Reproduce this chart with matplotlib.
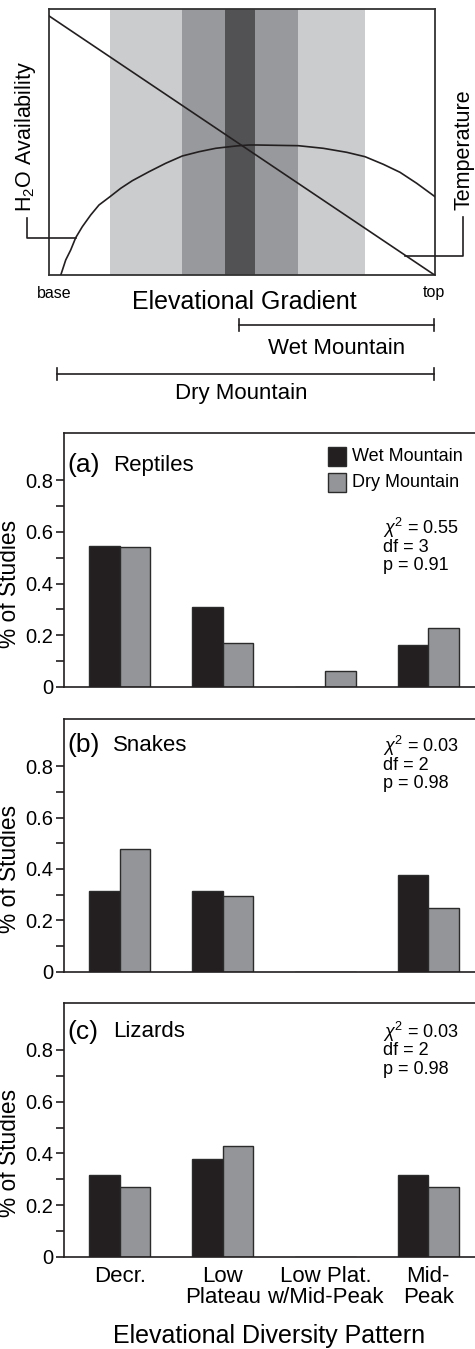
import matplotlib
matplotlib.use("Agg")
import matplotlib.pyplot as plt
import numpy as np
from matplotlib.patches import Rectangle
from matplotlib.ticker import FixedLocator

plt.rcParams["font.family"] = ["Liberation Sans", "DejaVu Sans"]
plt.rcParams["mathtext.fontset"] = "custom"
plt.rcParams["mathtext.rm"] = "Liberation Sans"
plt.rcParams["mathtext.it"] = "Liberation Sans:italic"

W, H = 475, 1349

# conceptual top panel (x, y as fractions of the gradient box)
h2o_x = [0.0303, 0.0433, 0.0562, 0.0692, 0.0863, 0.108, 0.1295, 0.158, 0.1858, 0.2158,
         0.2591, 0.3023, 0.3453, 0.3886, 0.4319, 0.4837, 0.5181, 0.5381, 0.6459, 0.7106,
         0.7712, 0.8187, 0.8661, 0.9093, 0.9526, 1.0]
h2o_y = [0.0, 0.0575, 0.095, 0.1412, 0.1825, 0.2264, 0.264, 0.2952, 0.3267, 0.3552,
         0.389, 0.4206, 0.448, 0.4641, 0.4769, 0.4855, 0.4893, 0.4893, 0.4867, 0.4769,
         0.4619, 0.4454, 0.4168, 0.3868, 0.3455, 0.2952]
temp_x = [0.0, 1.0]
temp_y = [0.974, 0.0]
bands = [(0.158, 0.819, "#cbccce"), (0.345, 0.645, "#98999c"), (0.456, 0.534, "#525255")]

# bar panels
patterns = ["Decr.", "Low\nPlateau", "Low Plat.\nw/Mid-Peak", "Mid-\nPeak"]
series = ["Wet Mountain", "Dry Mountain"]
taxa = ["(a)", "(b)", "(c)"]
taxa_names = ["Reptiles", "Snakes", "Lizards"]
wet = [[0.546, 0.310, 0.0, 0.162],
       [0.315, 0.315, 0.0, 0.377],
       [0.315, 0.377, 0.0, 0.315]]
dry = [[0.542, 0.171, 0.062, 0.229],
       [0.479, 0.293, 0.0, 0.250],
       [0.270, 0.429, 0.0, 0.270]]
stats = [("0.55", "3", "0.91"), ("0.03", "2", "0.98"), ("0.03", "2", "0.98")]

WET_C, DRY_C, EDGE = "#231f20", "#939598", "#2b2b2b"
INK = "#231f20"


def px_axes(fig, left, top, right, bottom):
    return fig.add_axes([left / W, 1 - bottom / H, (right - left) / W, (bottom - top) / H])


fig = plt.figure(figsize=(W / 100, H / 100), dpi=100)

# ---- top schematic ----
ax0 = px_axes(fig, 49, 9, 435, 275.3)
for x0, x1, c in bands:
    ax0.axvspan(x0, x1, color=c, lw=0, zorder=0)
ax0.plot(h2o_x, h2o_y, color=INK, lw=1.2, zorder=3, solid_joinstyle="round")
ax0.plot(temp_x, temp_y, color=INK, lw=1.2, zorder=3)
ax0.set_xlim(0, 1); ax0.set_ylim(0, 1)
ax0.set_xticks([]); ax0.set_yticks([])
for s in ax0.spines.values():
    s.set_linewidth(1.3); s.set_color("#333333")

# overlay in pixel coords for the annotation layer
ov = fig.add_axes([0, 0, 1, 1], zorder=5)
ov.set_xlim(0, W); ov.set_ylim(H, 0); ov.axis("off"); ov.patch.set_alpha(0)
lk = dict(color=INK, lw=1.2)
ov.plot([27, 27, 75.7], [218, 237.5, 237.5], **lk)
ov.plot([405, 463, 463], [256, 256, 217], **lk)
ov.text(26, 137, r"H$_2$O Availability", rotation=90, ha="center", va="center", fontsize=15.5)
ov.text(464, 150, "Temperature", rotation=90, ha="center", va="center", fontsize=15.5)
ov.text(54, 293, "base", ha="center", va="center", fontsize=11.5)
ov.text(434, 293, "top", ha="center", va="center", fontsize=11.5)
ov.text(244, 302, "Elevational Gradient", ha="center", va="center", fontsize=18)
for x0, x1, y, lab, lx, ly in [(239, 434, 325, "Wet Mountain", 337, 348),
                               (57, 434, 374, "Dry Mountain", 241, 393)]:
    ov.plot([x0, x1], [y, y], **lk)
    ov.plot([x0, x0], [y - 6, y + 6], **lk)
    ov.plot([x1, x1], [y - 6, y + 6], **lk)
    ov.text(lx, ly, lab, ha="center", va="center", fontsize=16)

# ---- bar panels ----
panel_px = [(433, 687), (719.3, 971.7), (1002.7, 1256.7)]
label_dy = [32, 26, 29]
stat_dy = [(95, 115, 133), (26.4, 45.7, 63.7), (29, 48, 66.3)]
x = np.arange(len(patterns))
bw = 0.297
for i, (top, bot) in enumerate(panel_px):
    ax = px_axes(fig, 64, top, 475, bot)
    ax.bar(x - bw / 2, wet[i], bw, color=WET_C, edgecolor=EDGE, lw=1.0, zorder=2)
    ax.bar(x + bw / 2, dry[i], bw, color=DRY_C, edgecolor=EDGE, lw=1.0, zorder=2)
    ax.set_xlim(-0.545, 3.457)
    ax.set_ylim(0, 0.983)
    ax.spines["right"].set_visible(False)
    for s in ("left", "top", "bottom"):
        ax.spines[s].set_linewidth(1.2); ax.spines[s].set_color(INK)
    ax.set_yticks([0, 0.2, 0.4, 0.6, 0.8])
    ax.set_yticklabels(["0", "0.2", "0.4", "0.6", "0.8"])
    ax.yaxis.set_minor_locator(FixedLocator([0.1, 0.3, 0.5, 0.7]))
    ax.tick_params(axis="y", which="both", length=6, width=1.2, color=INK,
                   labelsize=14.5, pad=2)
    ax.set_xticks(x)
    if i == 2:
        ax.set_xticklabels(patterns, fontsize=16, linespacing=0.95)
        ax.tick_params(axis="x", length=0, pad=7)
        ax.set_xlabel("Elevational Diversity Pattern", fontsize=18, labelpad=12)
    else:
        ax.set_xticklabels([])
        ax.tick_params(axis="x", length=0)
    ov.text(21, bot - 0.4 * (bot - top) / 0.983, "% of Studies", rotation=90,
            ha="right", va="center", fontsize=16.4)
    ov.text(67, top + label_dy[i], taxa[i], ha="left", va="center", fontsize=19)
    ov.text(113, top + label_dy[i], taxa_names[i], ha="left", va="center", fontsize=16)
    chi, df, p = stats[i]
    sy = [top + v for v in stat_dy[i]]
    ov.text(383, sy[0], r"$\chi^2$" + " = " + chi, ha="left", va="center", fontsize=13)
    ov.text(383, sy[1], "df = " + df, ha="left", va="center", fontsize=13)
    ov.text(383, sy[2], "p = " + p, ha="left", va="center", fontsize=13)
    if i == 0:
        for k, (name, c) in enumerate(zip(series, (WET_C, DRY_C))):
            y0 = top + 13.7 + 26 * k
            ov.add_patch(Rectangle((328, y0), 18, 19, facecolor=c, edgecolor=EDGE, lw=1.0))
            ov.text(352, y0 + 9.5, name, ha="left", va="center", fontsize=13)

fig.savefig("out.png", dpi=100)
